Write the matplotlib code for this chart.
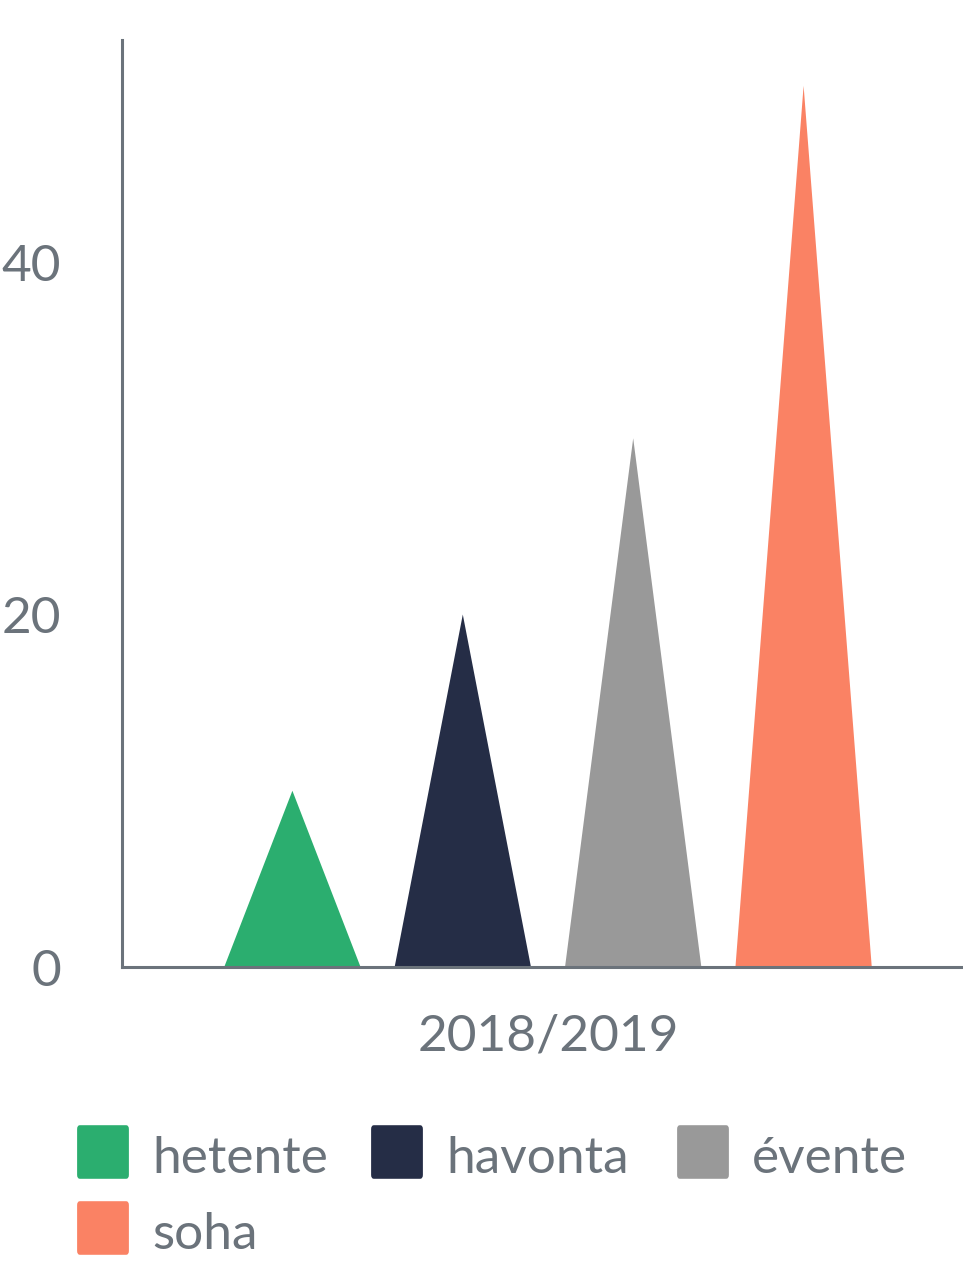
import matplotlib
matplotlib.use("Agg")
import matplotlib.pyplot as plt
from matplotlib.patches import FancyBboxPatch

plt.rcParams['font.family'] = ['Lato', 'DejaVu Sans']

categories = ["2018/2019"]
series = ["hetente", "havonta", "évente", "soha"]
values = [10, 20, 30, 50]
colors = ["#2bae6f", "#252d46", "#999999", "#fa8264"]
yticks = [0, 20, 40]

TXT = "#6b737b"
W, H = 963, 1265
fig = plt.figure(figsize=(W / 100, H / 100), dpi=100)
ax = fig.add_axes([122 / W, (H - 967) / H, 852 / W, (967 - 40) / H])

slot = 0.2
width = 0.16
n = len(series)
for i, (name, v, c) in enumerate(zip(series, values, colors)):
    xc = 0 + (i - (n - 1) / 2) * slot
    ax.fill([xc - width / 2, xc, xc + width / 2], [0, v, 0], color=c, lw=0)

ax.set_xlim(-0.5, 0.5)
ax.set_ylim(0, 52.6)
ax.set_xticks(range(len(categories)))
ax.set_xticklabels(categories)
ax.set_yticks(yticks)
ax.tick_params(axis='both', length=0, labelsize=37, labelcolor=TXT)
ax.tick_params(axis='y', pad=44)
ax.tick_params(axis='x', pad=33.5)
for s in ['top', 'right']:
    ax.spines[s].set_visible(False)
for s in ['left', 'bottom']:
    ax.spines[s].set_color(TXT)
    ax.spines[s].set_linewidth(2.2)

# legend (flow layout)
leg_pos = [(77, 1126), (371, 1126), (677, 1126), (77, 1202)]
for (px, py), name, c in zip(leg_pos, series, colors):
    box = FancyBboxPatch(((px + 3) / W, (H - py - 49) / H), 46 / W, 46 / H,
                         boxstyle="round,pad=0.003", transform=fig.transFigure,
                         facecolor=c, edgecolor='none')
    fig.patches.append(box)
    fig.text((px + 75) / W, (H - py - 33) / H, name, fontsize=37, color=TXT,
             va='center', ha='left')

fig.savefig("out.png", dpi=100)
